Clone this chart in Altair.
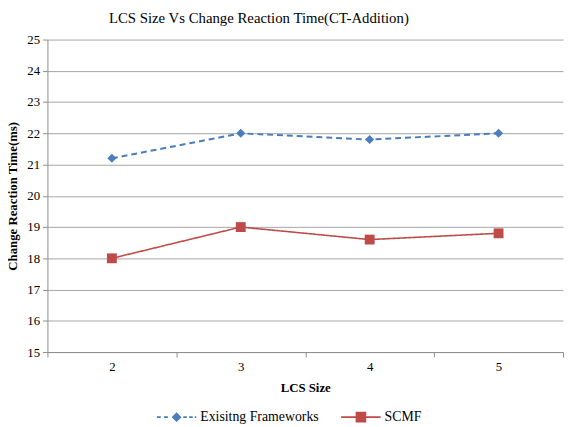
import altair as alt
import pandas as pd

lcs_sizes = ["2", "3", "4", "5"]
existing = [21.2, 22.0, 21.8, 22.0]
scmf = [18.0, 19.0, 18.6, 18.8]
series_names = ["Exisitng Frameworks", "SCMF"]
y_ticks = list(range(15, 26))

rows = []
for s, vals in zip(series_names, [existing, scmf]):
    for x, v in zip(lcs_sizes, vals):
        rows.append({"size": x, "time": v, "series": s})
df = pd.DataFrame(rows)

BLUE = "#4A7EBB"
RED = "#BE4B48"
FONT = "Liberation Serif"


def bar(x0, x1, h):
    return f"M{x0},{-h}H{x1}V{h}H{x0}Z"


# legend symbols: line + marker drawn as filled shapes (units: 1 = 20px)
blue_sym = (bar(-1, -0.8, 0.05) + bar(-0.64, -0.44, 0.05)
            + bar(0.34, 0.52, 0.05) + bar(0.64, 0.82, 0.05) + bar(0.92, 1.0, 0.05)
            + "M0,-0.25L0.25,0L0,0.25L-0.25,0Z")
red_sym = (bar(-1, -0.26, 0.04) + bar(0.26, 1, 0.04)
           + "M-0.27,-0.27H0.27V0.27H-0.27Z")

x_enc = alt.X("size:O", scale=alt.Scale(type="band", domain=lcs_sizes, paddingInner=0, paddingOuter=0),
              axis=alt.Axis(title="LCS Size", labelAngle=0, tickBand="extent", grid=False,
                            labelPadding=4, titlePadding=8))
y_enc = alt.Y("time:Q", scale=alt.Scale(domain=[15, 25], nice=False, zero=False),
              axis=alt.Axis(title="Change Reaction Time(ms)", values=y_ticks, grid=True,
                            labelPadding=3, titlePadding=7))

base = alt.Chart(df)

layers = []
for name, col, dash, shp, sz, sw in [
    (series_names[0], BLUE, [6, 4], "diamond", 85, 2),
    (series_names[1], RED, [1, 0], "square", 100, 1.6),
]:
    sub = base.transform_filter(alt.datum.series == name)
    layers.append(sub.mark_line(strokeWidth=sw, strokeDash=dash, color=col).encode(x=x_enc, y=y_enc))
    layers.append(sub.mark_point(filled=True, opacity=1, color=col, shape=shp, size=sz).encode(x=x_enc, y=y_enc))

legend_layer = base.transform_filter("false").mark_point(filled=True, opacity=1).encode(
    x=x_enc, y=y_enc,
    color=alt.Color("series:N", scale=alt.Scale(domain=series_names, range=[BLUE, RED]),
                    legend=alt.Legend(title=None)),
    shape=alt.Shape("series:N", scale=alt.Scale(domain=series_names, range=[blue_sym, red_sym]),
                    legend=alt.Legend(title=None)),
)
layers.append(legend_layer)

chart = alt.layer(*layers).properties(
    width=523, height=317,
    autosize=alt.AutoSizeParams(type="none"),
    padding={"left": 40, "top": 29, "right": 1, "bottom": 73},
    title=alt.TitleParams("LCS Size Vs Change Reaction Time(CT-Addition)", font=FONT, fontSize=15,
                          fontWeight="normal", color="#000000", anchor="middle", dx=-47, offset=8),
).configure_view(stroke=None).configure_axis(
    labelFont=FONT, labelFontSize=13, labelColor="#000000",
    titleFont=FONT, titleFontSize=13, titleFontWeight="bold", titleColor="#000000",
    domainColor="#8c8c8c", tickColor="#8c8c8c", tickSize=5,
    gridColor="#a6a6a6", gridWidth=1,
).configure_legend(
    orient="none", legendX=111, legendY=363, direction="horizontal",
    symbolSize=1600, symbolStrokeWidth=0, symbolOpacity=1, labelFont=FONT, labelFontSize=14,
    labelColor="#000000", labelOffset=4, columnPadding=22,
)

chart.save("out.html", embed_options={"renderer": "svg", "actions": False})
